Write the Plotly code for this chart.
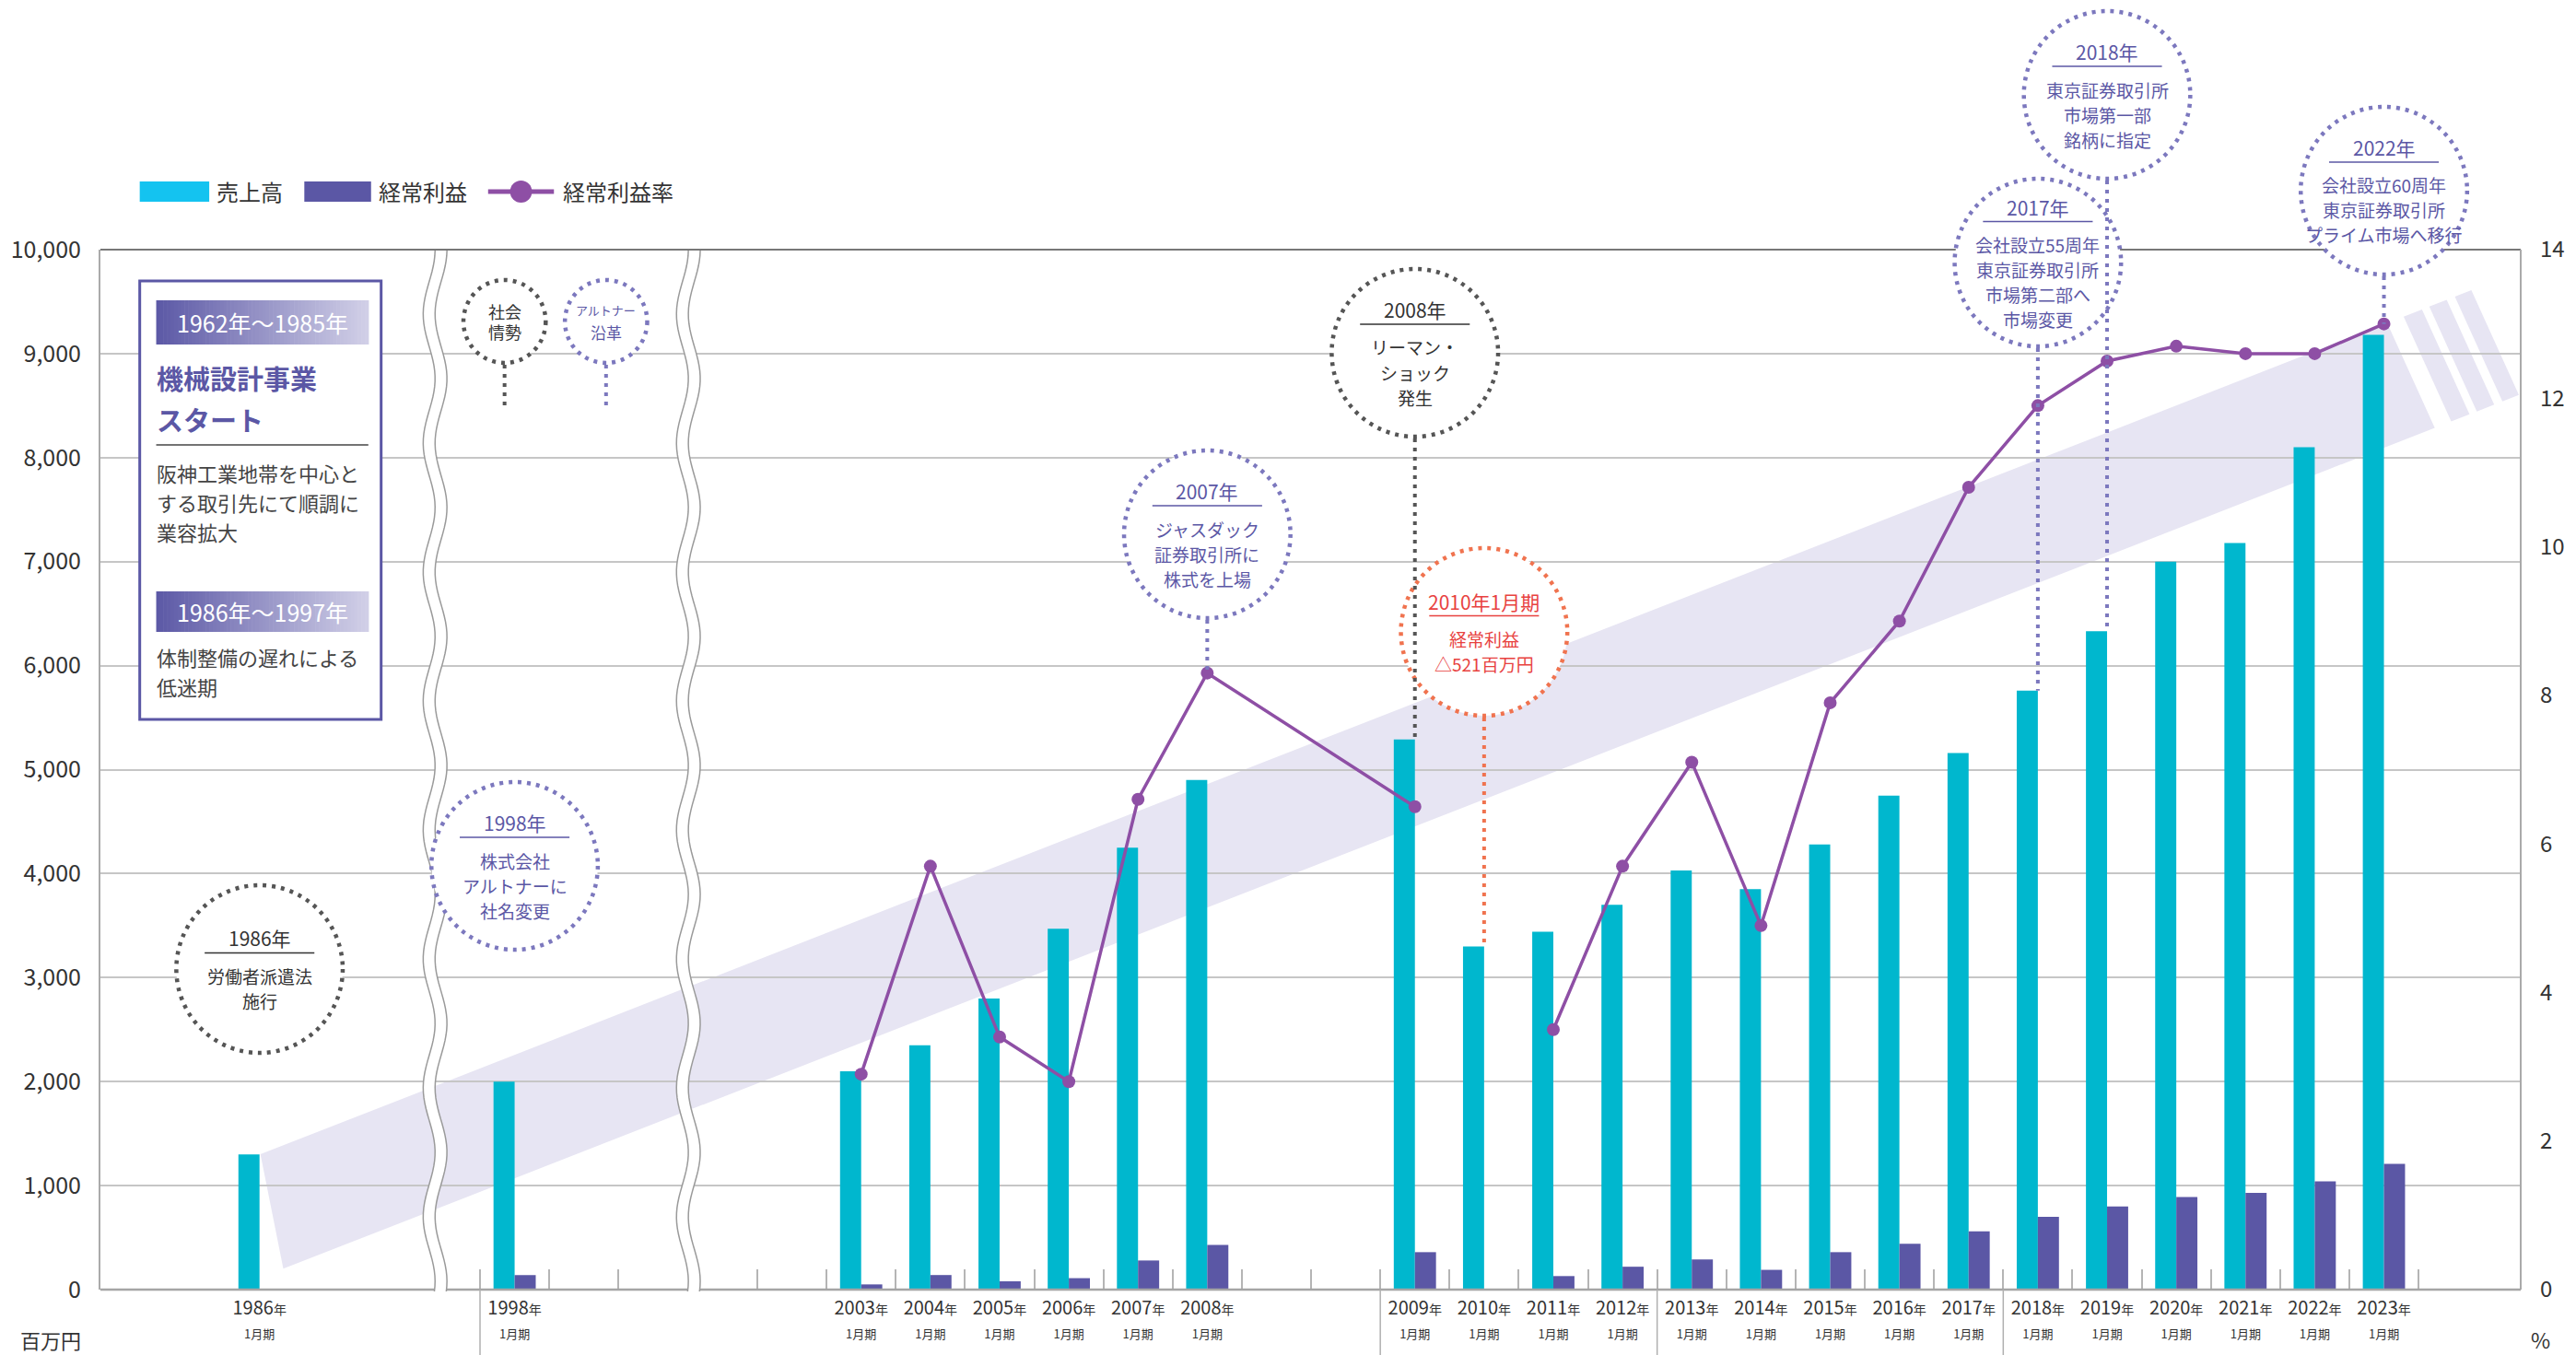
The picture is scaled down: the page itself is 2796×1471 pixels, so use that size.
import numpy as np
import plotly.graph_objects as go

# ---------------- data ----------------
fiscal_years = ["1986", "1998", "2003", "2004", "2005", "2006", "2007", "2008",
                "2009", "2010", "2011", "2012", "2013", "2014", "2015", "2016",
                "2017", "2018", "2019", "2020", "2021", "2022", "2023"]
sales = [1300, 2000, 2100, 2350, 2800, 3470, 4250, 4900,
         5290, 3300, 3440, 3700, 4030, 3850, 4280, 4750,
         5160, 5760, 6330, 7000, 7180, 8100, 9180]
ordinary_profit = [None, 140, 50, 140, 80, 110, 280, 430,
                   360, -521, 130, 220, 290, 190, 360, 440,
                   560, 700, 800, 890, 930, 1040, 1210]
profit_rate = [None, None, 2.9, 5.7, 3.4, 2.8, 6.6, 8.3,
               6.5, None, 3.5, 5.7, 7.1, 4.9, 7.9, 9.0,
               10.8, 11.9, 12.5, 12.7, 12.6, 12.6, 13.0]
left_ticks = [0, 1000, 2000, 3000, 4000, 5000, 6000, 7000, 8000, 9000, 10000]
right_ticks = [0, 2, 4, 6, 8, 10, 12, 14]
legend_labels = ["売上高", "経常利益", "経常利益率"]
unit_left, unit_right = "百万円", "%"
separator_years = ["1998", "2009", "2013", "2018"]

box_period1 = "1962年〜1985年"
box_title = ["機械設計事業", "スタート"]
box_text1 = ["阪神工業地帯を中心と", "する取引先にて順調に", "業容拡大"]
box_period2 = "1986年〜1997年"
box_text2 = ["体制整備の遅れによる", "低迷期"]

events = [
    dict(fy="1986", cy=1052, year="1986年", lines=["労働者派遣法", "施行"], kind="dark", target=None),
    dict(fy="1998", cy=940, year="1998年", lines=["株式会社", "アルトナーに", "社名変更"], kind="purple", target=None),
    dict(fy="2008", cy=580, year="2007年", lines=["ジャスダック", "証券取引所に", "株式を上場"], kind="purple", target="rate"),
    dict(fy="2009", cy=383, year="2008年", lines=["リーマン・", "ショック", "発生"], kind="dark", target="sales"),
    dict(fy="2010", cy=686, year="2010年1月期", lines=["経常利益", "△521百万円"], kind="red", target="sales"),
    dict(fy="2018", cy=285, year="2017年", lines=["会社設立55周年", "東京証券取引所", "市場第二部へ", "市場変更"], kind="purple", target="sales"),
    dict(fy="2019", cy=103, year="2018年", lines=["東京証券取引所", "市場第一部", "銘柄に指定"], kind="purple", target="sales"),
    dict(fy="2023", cy=207, year="2022年", lines=["会社設立60周年", "東京証券取引所", "プライム市場へ移行"], kind="purple", target="rate"),
]

# ---------------- geometry / style ----------------
W, H = 2796, 1471
L, R, T, B = 107, 2754, 271, 1400
PW, PH = R - L, B - T
Y_MAX, Y2_MAX = 10000, 14
UNIT = 75.7

def px(x):
    return (x - L) / PW

def py(y):
    return (B - y) / PH

FONT = "Noto Sans CJK JP, Noto Sans, sans-serif"
CYAN = "#00B7CE"
CYAN_LEG = "#14C3F0"
PURPLE = "#5B57A5"
LINEC = "#8E4FA5"
BAND = "#E7E5F3"
TXT = "#333333"
GRID = "#C6C6C6"
DOT_DARK = "#555555"
DOT_PURPLE = "#7C78BE"
RED = "#E8423F"
RED_DOT = "#F0734F"

sections = [
    {"axis": "x", "px0": 107, "px1": 473, "cats": ["1986"], "anchor": ("1986", 281), "ticks": False},
    {"axis": "x2", "px0": 473, "px1": 750, "cats": ["1998", "_g1", "_g2"], "anchor": ("1998", 560), "ticks": True},
    {"axis": "x3", "px0": 750, "px1": 2754,
     "cats": ["_g3", "_g4"] + fiscal_years[2:8] + ["_g5", "_g6"] + fiscal_years[8:],
     "anchor": ("2003", 939), "ticks": True},
]
for s in sections:
    a_cat, a_px = s["anchor"]
    i = s["cats"].index(a_cat)
    s["range"] = [i - (a_px - s["px0"]) / UNIT, i + (s["px1"] - a_px) / UNIT]
    s["domain"] = [max(0.0, px(s["px0"])), min(1.0, px(s["px1"]))]

def section_of(cat):
    for s in sections:
        if cat in s["cats"]:
            return s

def cat_px(cat, shift=0.0):
    s = section_of(cat)
    idx = s["cats"].index(cat) + shift
    return s["px0"] + (idx - s["range"][0]) * UNIT

S = dict(zip(fiscal_years, sales))
P = dict(zip(fiscal_years, ordinary_profit))
RT = dict(zip(fiscal_years, profit_rate))

def tick_label(c):
    if c.startswith("_"):
        return ""
    return (f"{c}<span style='font-size:14px'>年</span><br>"
            f"<span style='font-size:13px'>1月期</span>")

fig = go.Figure()
for s in sections:
    fig.add_trace(go.Bar(x=s["cats"], y=[S.get(c) for c in s["cats"]], xaxis=s["axis"], yaxis="y",
                         marker=dict(color=CYAN, line=dict(width=0)), name=legend_labels[0]))
    fig.add_trace(go.Bar(x=s["cats"], y=[P.get(c) for c in s["cats"]], xaxis=s["axis"], yaxis="y",
                         marker=dict(color=PURPLE, line=dict(width=0)), name=legend_labels[1]))

line_years = [c for c in sections[2]["cats"] if c in RT]
fig.add_trace(go.Scatter(x=line_years, y=[RT[c] for c in line_years], xaxis="x3", yaxis="y2",
                         mode="lines+markers", connectgaps=False, name=legend_labels[2],
                         line=dict(color=LINEC, width=3.5), marker=dict(size=14, color=LINEC)))

layout_axes = {}
for k, s in enumerate(sections):
    key = "xaxis" if k == 0 else f"xaxis{k + 1}"
    ax = dict(domain=s["domain"], range=s["range"], type="category", categoryorder="array",
              categoryarray=s["cats"], anchor="y", showgrid=False, zeroline=False, showline=False,
              tickmode="array", tickvals=s["cats"], ticktext=[tick_label(c) for c in s["cats"]],
              tickfont=dict(size=20, color=TXT), ticklabelstandoff=6, fixedrange=True)
    if s["ticks"]:
        ax.update(ticks="inside", tickson="boundaries", ticklen=22, tickwidth=1.5, tickcolor="#B5B5B5")
    else:
        ax.update(ticks="")
    layout_axes[key] = ax

layout_axes["yaxis"] = dict(domain=[0, 1], range=[0, Y_MAX], anchor="x", tickmode="array",
                            tickvals=left_ticks, tickformat=",", showgrid=True, gridcolor=GRID,
                            gridwidth=1.5, zeroline=False, showline=True, linecolor="#AAAAAA",
                            linewidth=2, ticks="", ticklabelstandoff=14,
                            tickfont=dict(size=25, color=TXT), fixedrange=True)
layout_axes["yaxis2"] = dict(overlaying="y", side="right", anchor="x3", range=[0, Y2_MAX],
                             tickmode="array", tickvals=right_ticks, showgrid=False, zeroline=False,
                             showline=False, ticks="", ticklabelstandoff=20,
                             tickfont=dict(size=24, color=TXT), fixedrange=True)

shapes = []
annotations = []

def path_from(pts, close=False):
    s = "M " + " L ".join(f"{px(x):.5f},{py(y):.5f}" for x, y in pts)
    return s + (" Z" if close else "")

# ---- diagonal band with striped end (background) ----
def yu(x):
    return 1253 + (x - 282) * (353 - 1253) / (2602 - 282)

TH, CUT = 134, 52
band_main = [(282, yu(282)), (2608, yu(2608)), (2608 + CUT, yu(2608 + CUT) + TH), (307, yu(307) + TH)]
shapes.append(dict(type="path", xref="paper", yref="paper", path=path_from(band_main, True),
                   fillcolor=BAND, line=dict(width=0), layer="below"))
for a, b in [(2626, 2646), (2654, 2673), (2682, 2700)]:
    pts = [(a, yu(a)), (b, yu(b)), (b + CUT, yu(b + CUT) + TH), (a + CUT, yu(a + CUT) + TH)]
    shapes.append(dict(type="path", xref="paper", yref="paper", path=path_from(pts, True),
                       fillcolor=BAND, line=dict(width=0), layer="below"))

# ---- frame lines ----
shapes.append(dict(type="line", xref="paper", yref="paper", x0=0, x1=1, y0=1, y1=1,
                   line=dict(color="#777777", width=2), layer="above"))
shapes.append(dict(type="line", xref="paper", yref="paper", x0=1, x1=1, y0=0, y1=1,
                   line=dict(color="#AAAAAA", width=2), layer="above"))
shapes.append(dict(type="line", xref="paper", yref="paper", x0=0, x1=1, y0=0, y1=0,
                   line=dict(color="#A5A5A5", width=2.5), layer="above"))
for yr in separator_years:
    xx = px(cat_px(yr, -0.5))
    shapes.append(dict(type="line", xref="paper", yref="paper", x0=xx, x1=xx, y0=0, y1=py(H),
                       line=dict(color="#B0B0B0", width=1.5), layer="above"))

# ---- wavy axis breaks ----
def wave_pts(xc, off, y0, y1, A=6.5, Pd=140, n=200):
    ys = np.linspace(y0, y1, n)
    xs = xc + off + A * np.cos(2 * np.pi * (ys - T) / Pd)
    return list(zip(xs, ys))

for xc in [473, 750]:
    left = wave_pts(xc, -6.5, T + 1, B + 3)
    right = wave_pts(xc, 6.5, T + 1, B + 3)
    shapes.append(dict(type="path", xref="paper", yref="paper", path=path_from(left + right[::-1], True),
                       fillcolor="white", line=dict(width=0), layer="above"))
    for off in (-6.5, 6.5):
        shapes.append(dict(type="path", xref="paper", yref="paper",
                           path=path_from(wave_pts(xc, off, T + 1, B + 2)),
                           line=dict(color="#9A9A9A", width=1.5), layer="above"))

def add_text(x, y, text, size, color=TXT, xanchor="center", bold=False):
    annotations.append(dict(x=px(x), y=py(y), xref="paper", yref="paper", text=text, showarrow=False,
                            xanchor=xanchor, yanchor="middle",
                            font=dict(size=size, color=color, family=FONT,
                                      weight="bold" if bold else "normal")))

def hline(x0, x1, y, color, width=1.5):
    shapes.append(dict(type="line", xref="paper", yref="paper", x0=px(x0), x1=px(x1), y0=py(y), y1=py(y),
                       line=dict(color=color, width=width), layer="above"))

def vdots(x, y0, y1, color):
    shapes.append(dict(type="line", xref="paper", yref="paper", x0=px(x), x1=px(x), y0=y0, y1=y1,
                       line=dict(color=color, width=4, dash="4px,6px"), layer="above"))

def circle(cx, cy, r, color):
    shapes.append(dict(type="circle", xref="paper", yref="paper", x0=px(cx - r), x1=px(cx + r),
                       y0=py(cy + r), y1=py(cy - r), fillcolor="white",
                       line=dict(color=color, width=4.5, dash="4px,6px"), layer="above"))

# ---- left explanation box ----
shapes.append(dict(type="rect", xref="paper", yref="paper", x0=px(150), x1=px(414), y0=py(781), y1=py(305),
                   fillcolor="white", line=dict(color=PURPLE, width=3), layer="above"))

def gradient_bar(x0, x1, y0, y1, n=60):
    c0, c1 = np.array([92, 88, 166]), np.array([210, 208, 232])
    edges = np.linspace(x0, x1, n + 1)
    for j in range(n):
        c = c0 + (c1 - c0) * (j + 0.5) / n
        shapes.append(dict(type="rect", xref="paper", yref="paper", x0=px(edges[j]), x1=px(edges[j + 1] + 0.6),
                           y0=py(y1), y1=py(y0), fillcolor=f"rgb({int(c[0])},{int(c[1])},{int(c[2])})",
                           line=dict(width=0), layer="above"))

gradient_bar(168, 400, 326, 374)
add_text(284, 350, box_period1, 25, "white")
add_text(166, 410, box_title[0], 29, PURPLE, "left", True)
add_text(166, 455, box_title[1], 29, PURPLE, "left", True)
hline(168, 400, 483, "#444444", 1.5)
for j, t in enumerate(box_text1):
    add_text(166, 513 + 32 * j, t, 22, "#444444", "left")
gradient_bar(168, 400, 642, 686)
add_text(284, 664, box_period2, 25, "white")
for j, t in enumerate(box_text2):
    add_text(166, 713 + 32 * j, t, 22, "#444444", "left")

# ---- small legend circles (社会情勢 / アルトナー沿革) ----
circle(549, 349, 45, DOT_DARK)
add_text(549, 338, "社会", 18, TXT)
add_text(549, 360, "情勢", 18, TXT)
vdots(549, py(396), py(446), DOT_DARK)
circle(660, 349, 45, DOT_PURPLE)
add_text(660, 336, "アルトナー", 13, PURPLE)
add_text(660, 360, "沿革", 17, PURPLE)
vdots(660, py(396), py(446), DOT_PURPLE)

# ---- event circles ----
RAD = 91
kinds = {"dark": (DOT_DARK, TXT), "purple": (DOT_PURPLE, PURPLE), "red": (RED_DOT, RED)}
connectors = []
for ev in events:
    cx = cat_px(ev["fy"])
    cy = ev["cy"]
    dot_c, txt_c = kinds[ev["kind"]]
    circle(cx, cy, RAD, dot_c)
    n = len(ev["lines"])
    ytop = cy - 47 + (3 - n) * 13.5
    add_text(cx, ytop, ev["year"], 21, txt_c)
    hline(cx - 60, cx + 60, ytop + 16, txt_c, 1.5)
    for j, t in enumerate(ev["lines"]):
        add_text(cx, ytop + 41 + 27 * j, t, 19, txt_c)
    if ev["target"] == "sales":
        connectors.append((cx, py(cy + RAD + 2), S[ev["fy"]] / Y_MAX, dot_c))
    elif ev["target"] == "rate":
        connectors.append((cx, py(cy + RAD + 2), RT[ev["fy"]] / Y2_MAX, dot_c))
for cx, y0, y1, c in connectors:
    vdots(cx, y0, y1, c)

# ---- custom legend ----
shapes.append(dict(type="rect", xref="paper", yref="paper", x0=px(150), x1=px(226), y0=py(219), y1=py(197),
                   fillcolor=CYAN_LEG, line=dict(width=0), layer="above"))
add_text(232, 208, legend_labels[0], 24, TXT, "left")
shapes.append(dict(type="rect", xref="paper", yref="paper", x0=px(330), x1=px(403), y0=py(219), y1=py(197),
                   fillcolor=PURPLE, line=dict(width=0), layer="above"))
add_text(409, 208, legend_labels[1], 24, TXT, "left")
hline(531, 603, 208, LINEC, 5)
shapes.append(dict(type="circle", xref="paper", yref="paper", x0=px(555), x1=px(579), y0=py(220), y1=py(196),
                   fillcolor=LINEC, line=dict(width=0), layer="above"))
add_text(611, 208, legend_labels[2], 24, TXT, "left")

# ---- unit labels ----
add_text(53, 1454, unit_left, 22, TXT)
add_text(2776, 1454, unit_right, 23, TXT)

fig.update_layout(
    width=W, height=H, autosize=False,
    margin=dict(l=L, r=W - R, t=T, b=H - B, pad=0),
    paper_bgcolor="white", plot_bgcolor="rgba(0,0,0,0)",
    font=dict(family=FONT, color=TXT),
    barmode="group", bargap=0.39, bargroupgap=0,
    showlegend=False, hovermode=False,
    shapes=shapes, annotations=annotations,
    **layout_axes,
)

fig.write_html("out.html", config={"displayModeBar": False},
               post_script="document.body.style.margin='0px';document.body.style.overflow='hidden';")
